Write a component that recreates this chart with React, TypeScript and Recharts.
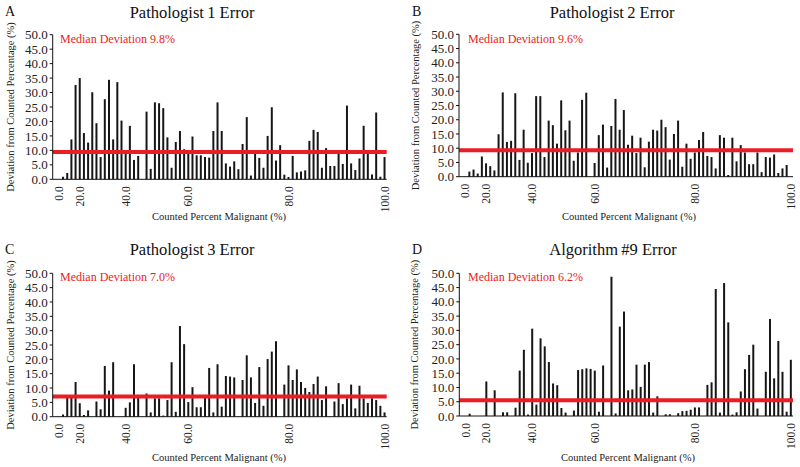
import React from 'react';
import { BarChart, Bar, XAxis, YAxis, ReferenceLine } from 'recharts';

// 80 samples (category index), sorted by counted percent malignant
const categories: number[] = Array.from({ length: 80 }, (_, i) => i);

// x tick labels: which category index carries which label
const xTickIndex = [1, 6, 17, 32, 56, 79];
const xTickText = ['0.0', '20.0', '40.0', '60.0', '80.0', '100.0'];

const yTicks = [0, 5, 10, 15, 20, 25, 30, 35, 40, 45, 50];

const pathologist1 = [
  0, 0, 0.9, 2.2, 13.8, 32.6, 35.0, 16.0, 12.7, 30.1, 19.4, 7.7,
  27.7, 34.4, 13.8, 33.6, 20.3, 9.0, 18.5, 6.7, 8.1, 0,
  23.4, 3.6, 26.6, 26.3, 24.6, 14.5, 4.0, 12.9, 16.7, 10.4,
  8.8, 14.8, 8.3, 8.3, 7.7, 7.5, 16.7, 26.6, 16.7, 5.5,
  4.4, 6.2, 3.5, 12.2, 21.5, 1.3, 8.8, 7.4, 4.0, 15.0,
  24.9, 6.5, 11.8, 1.6, 0.8, 8.1, 2.4, 2.7, 3.1, 13.3,
  17.1, 16.4, 4.0, 10.8, 4.6, 4.6, 8.8, 5.3, 25.5, 5.5,
  3.2, 7.2, 18.5, 8.8, 1.7, 23.1, 0.9, 7.7,
];

const pathologist2 = [
  0, 0, 1.8, 2.5, 1.1, 7.1, 4.7, 3.7, 2.2, 14.9, 29.6, 12.2,
  12.6, 29.3, 5.9, 16.5, 4.9, 8.3, 28.3, 28.3, 6.9, 19.7,
  18.1, 11.6, 26.8, 16.3, 19.7, 5.6, 8.5, 27.0, 29.5, 0,
  4.8, 14.6, 18.3, 3.2, 17.8, 27.3, 16.5, 23.4, 11.2, 14.4,
  8.3, 13.7, 3.3, 12.3, 16.5, 16.2, 20.0, 17.4, 6.0, 15.0,
  19.7, 3.5, 11.6, 6.3, 8.5, 12.9, 15.7, 7.3, 6.9, 2.9,
  14.6, 13.7, 0.6, 13.7, 5.4, 11.1, 8.5, 4.4, 4.4, 8.5,
  1.6, 6.9, 6.7, 7.8, 1.3, 2.9, 4.1, 0,
];

const pathologist3 = [
  0, 0, 0.8, 6.7, 6.7, 12.1, 4.7, 0.6, 2.2, 0, 5.3, 2.6,
  17.7, 9.1, 19.0, 0, 0, 3.1, 5.0, 18.3, 6.6, 0,
  8.1, 1.5, 6.4, 6.4, 0.4, 5.8, 19.0, 1.7, 31.6, 25.3,
  5.1, 10.3, 3.3, 3.3, 6.6, 17.0, 1.5, 18.3, 3.5, 14.2,
  14.0, 13.7, 0, 12.8, 21.4, 13.7, 4.8, 17.3, 3.8, 20.1,
  22.7, 26.3, 0, 11.2, 17.9, 12.8, 16.5, 12.1, 10.0, 8.6,
  11.4, 14.0, 5.8, 10.6, 0, 5.3, 11.7, 4.4, 6.4, 11.2,
  2.9, 10.8, 6.4, 4.8, 6.4, 5.8, 3.8, 1.5,
];

const algorithm9 = [
  0, 0, 0.8, 0, 0, 0, 12.1, 0, 9.0, 0, 1.3, 1.3,
  0, 2.9, 15.9, 23.2, 0.5, 30.6, 4.0, 27.2, 24.4, 18.9,
  11.4, 10.8, 2.8, 1.2, 0, 1.9, 16.1, 16.4, 16.7, 16.5,
  15.9, 1.5, 17.7, 0, 48.8, 0.9, 31.3, 36.6, 9.0, 9.3,
  18.0, 10.2, 18.0, 18.9, 1.2, 6.9, 0, 0.6, 0.6, 0,
  1.0, 1.7, 1.8, 2.2, 3.0, 3.0, 0, 10.9, 11.8, 44.5,
  1.2, 46.6, 32.8, 0.5, 1.3, 8.6, 16.4, 21.4, 25.0, 2.6,
  0, 15.5, 34.0, 13.2, 26.3, 15.5, 1.5, 19.7,
];

const panelLetters = ['A', 'B', 'C', 'D'];
const panelTitles = ['Pathologist\u20091 Error', 'Pathologist\u20092 Error', 'Pathologist\u20093 Error', 'Algorithm\u2009#9 Error'];
const medianLabels = ['Median Deviation 9.8%', 'Median Deviation 9.6%', 'Median Deviation 7.0%', 'Median Deviation 6.2%'];
const medianLineValues = [9.4, 9.3, 7.0, 5.5];
const panelValues = [pathologist1, pathologist2, pathologist3, algorithm9];

const CW = 400;
const CH = 233;

type Geo = {
  ox: number; oy: number;
  pl: number; pr: number; pt: number; pb: number;
  tx: number; ty: number; lx: number; ly: number;
  mx: number; my: number; yx: number; xx: number; xy: number;
};

const geos: Geo[] = [
  { ox: 0, oy: 0, pl: 52.7, pr: 386.7, pt: 34.7, pb: 179.3, tx: 192, ty: 18, lx: 5, ly: 15.5, mx: 60, my: 43, yx: 10, xx: 219, xy: 220 },
  { ox: 400, oy: 0, pl: 59, pr: 393, pt: 34.3, pb: 176.7, tx: 212, ty: 18, lx: 12, ly: 15.5, mx: 68, my: 43, yx: 15, xx: 229, xy: 220 },
  { ox: 0, oy: 234, pl: 52.7, pr: 386.7, pt: 39.3, pb: 182.7, tx: 192, ty: 21, lx: 5, ly: 19.5, mx: 60, my: 47, yx: 10, xx: 219, xy: 226.7 },
  { ox: 400, oy: 234, pl: 59.3, pr: 393, pt: 39.3, pb: 182, tx: 213, ty: 21, lx: 12, ly: 19.5, mx: 68, my: 47, yx: 15, xx: 228, xy: 226.7 },
];

const FONT = '"Liberation Serif", "Times New Roman", Times, serif';
const RED = '#ec1c24';

const XTick = (props: any) => {
  const { x, y, payload } = props;
  const k = xTickIndex.indexOf(payload.value);
  if (k < 0) return <g />;
  return (
    <text
      x={x}
      y={y}
      transform={`rotate(-90 ${x} ${y})`}
      textAnchor="end"
      dominantBaseline="central"
      fontSize={11.5}
      fontFamily={FONT}
      fill="#222"
    >
      {xTickText[k]}
    </text>
  );
};

function Panel({ idx }: { idx: number }) {
  const g = geos[idx];
  const values = panelValues[idx];
  const data = categories.map((c) => ({ i: c, v: values[c] }));
  return (
    <div style={{ position: 'absolute', left: g.ox, top: g.oy, width: CW, height: CH }}>
      <BarChart
        width={CW}
        height={CH}
        data={data}
        margin={{ top: g.pt, right: CW - g.pr, bottom: 0, left: 0 }}
        barCategoryGap={0}
      >
        <XAxis
          dataKey="i"
          type="category"
          interval={0}
          height={CH - g.pb}
          tickLine={false}
          tickSize={0}
          tickMargin={7}
          axisLine={{ stroke: '#111', strokeWidth: 1 }}
          tick={<XTick />}
        />
        <YAxis
          type="number"
          domain={[0, 50]}
          ticks={yTicks}
          interval={0}
          width={g.pl}
          tickSize={3}
          tickMargin={2}
          tickFormatter={(v: number) => v.toFixed(1)}
          axisLine={{ stroke: '#111', strokeWidth: 1 }}
          tickLine={{ stroke: '#111', strokeWidth: 1 }}
          tick={{ fontSize: 13, fontFamily: FONT, fill: '#222' }}
        />
        <Bar dataKey="v" fill="#161616" barSize={2} isAnimationActive={false} />
        <ReferenceLine y={medianLineValues[idx]} stroke={RED} strokeWidth={4} ifOverflow="extendDomain" />
      </BarChart>
      <svg
        width={CW}
        height={CH}
        style={{ position: 'absolute', left: 0, top: 0, pointerEvents: 'none' }}
      >
        <text x={g.lx} y={g.ly} fontSize={14} fontFamily={FONT} fill="#111">{panelLetters[idx]}</text>
        <text x={g.tx} y={g.ty} fontSize={16.5} fontFamily={FONT} fill="#111" textAnchor="middle">{panelTitles[idx]}</text>
        <text x={g.mx} y={g.my} fontSize={12} fontFamily={FONT} fill={RED}>{medianLabels[idx]}</text>
        <text
          x={g.yx}
          y={(g.pt + g.pb) / 2}
          transform={`rotate(-90 ${g.yx} ${(g.pt + g.pb) / 2})`}
          textAnchor="middle"
          dominantBaseline="central"
          fontSize={10.5}
          fontFamily={FONT}
          fill="#222"
        >
          Deviation from Counted Percentage (%)
        </text>
        <text x={g.xx} y={g.xy} fontSize={10.5} fontFamily={FONT} fill="#222" textAnchor="middle">
          Counted Percent Malignant (%)
        </text>
      </svg>
    </div>
  );
}

export default function App() {
  return (
    <div style={{ position: 'absolute', left: 0, top: 0, width: 800, height: 467, background: '#fff', overflow: 'hidden' }}>
      {[0, 1, 2, 3].map((i) => (
        <Panel key={i} idx={i} />
      ))}
    </div>
  );
}
